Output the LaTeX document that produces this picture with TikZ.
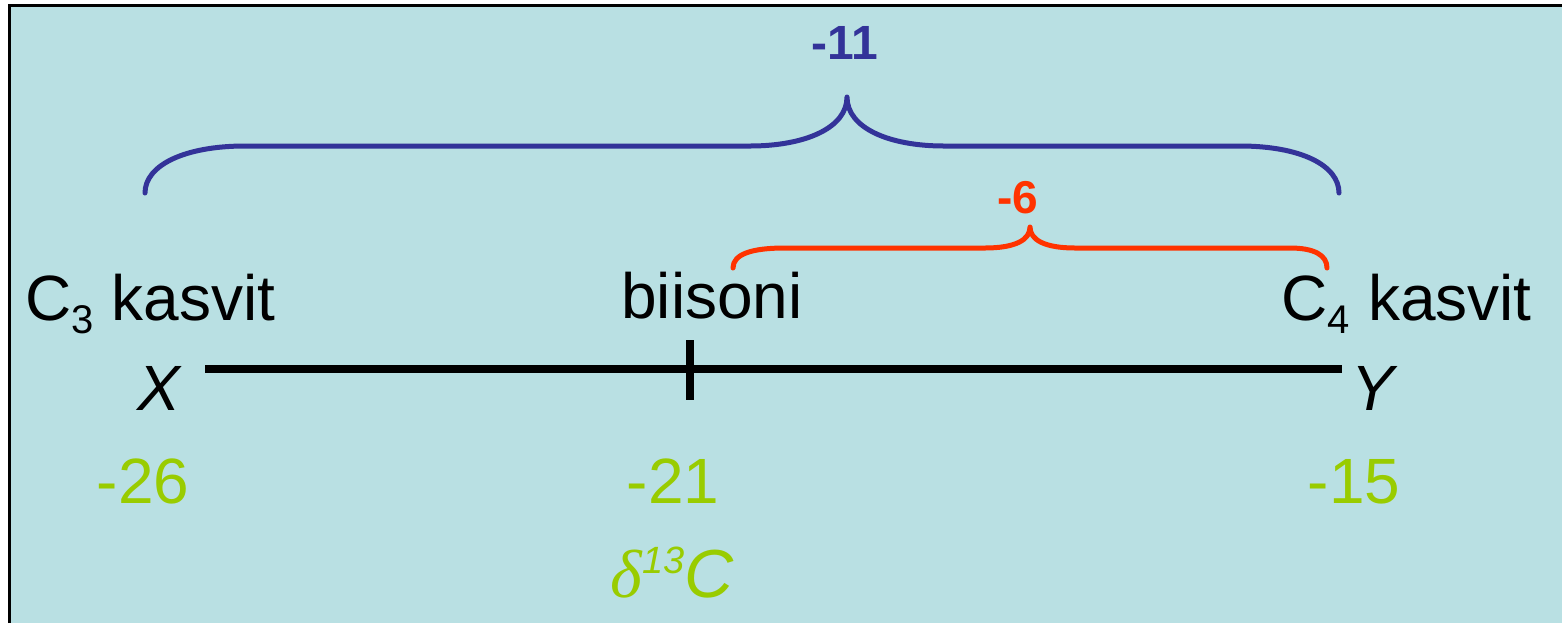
\documentclass[tikz,border=0pt]{standalone}
\usepackage{fontspec}
\setmainfont{Liberation Sans}
\newfontfamily\seriffam{Liberation Serif}
\definecolor{bgc}{HTML}{B9E0E3}
\definecolor{bblue}{HTML}{333399}
\definecolor{bred}{HTML}{FF3300}
\definecolor{lgreen}{HTML}{99CC00}
\newcommand\subidx[1]{\raisebox{-6.5pt}{\fontsize{20}{20}\selectfont #1}}
\begin{document}
\begin{tikzpicture}[x=0.5pt,y=-0.5pt,
  lbl/.style={anchor=base, inner sep=0pt, font=\fontsize{32}{38}\selectfont},
  numlbl/.style={lbl, text=lgreen},
  bracelbl/.style={anchor=base, inner sep=0pt, font=\bfseries\fontsize{#1}{#1}\selectfont},
  bracepath/.style={line width=2.5pt, line cap=round, line join=round},
  axisline/.style={line width=4pt}]
\useasboundingbox (0,0) rectangle (1562,623);
\fill[bgc] (9,5) rectangle (1562,623);
\draw[line width=1.5pt] (9,623) -- (9,5) -- (1562,5);

% axis
\coordinate (axL) at (205,369);
\coordinate (axR) at (1342,369);
\coordinate (tickT) at (690,340);
\coordinate (tickB) at (690,400);
\draw[axisline] (axL) -- (axR);
\draw[axisline] (tickT) -- (tickB);

% labels
\node[lbl, anchor=base west] (c3) at (25,320) {C\subidx{3} kasvit};
\node[lbl] (bison) at (712,318) {biisoni};
\node[lbl, anchor=base east] (c4) at (1532,320) {C\subidx{4} kasvit};
\node[lbl, font=\itshape\fontsize{32}{38}\selectfont] (xl) at (159,410) {X};
\node[lbl, font=\itshape\fontsize{32}{38}\selectfont] (yl) at (1373,410) {Y};
\node[numlbl] (n26) at (143,503) {-26};
\node[numlbl] (n21) at (673,503) {-21};
\node[numlbl] (n15) at (1354,503) {-15};
\node[numlbl, font=\itshape\fontsize{34}{40}\selectfont] (delta) at (672,597)
  {{\seriffam\itshape δ}\raisebox{12pt}{\fontsize{19}{19}\selectfont 13}C};

% blue brace
\coordinate (bL) at (145,193);
\coordinate (bT) at (847,97);
\coordinate (bR) at (1339,193);
\draw[bracepath, bblue] (bL) .. controls (145,165) and (185,146) .. (245,146)
  -- (750,146) .. controls (805,146) and (847,128) .. (bT)
  .. controls (847,128) and (889,146) .. (944,146)
  -- (1240,146) .. controls (1300,146) and (1339,165) .. (bR);
\node[bracelbl=24, text=bblue] (m11) at (845,59) {-11};

% red brace
\coordinate (rL) at (733,268);
\coordinate (rT) at (1030,227);
\coordinate (rR) at (1327,268);
\draw[bracepath, bred] (rL) .. controls (733,254) and (752,248) .. (785,248)
  -- (985,248) .. controls (1015,248) and (1030,240) .. (rT)
  .. controls (1030,240) and (1045,248) .. (1075,248)
  -- (1290,248) .. controls (1314,248) and (1327,255) .. (rR);
\node[bracelbl=23, text=bred] (m6) at (1018,213) {-6};
\end{tikzpicture}
\end{document}
